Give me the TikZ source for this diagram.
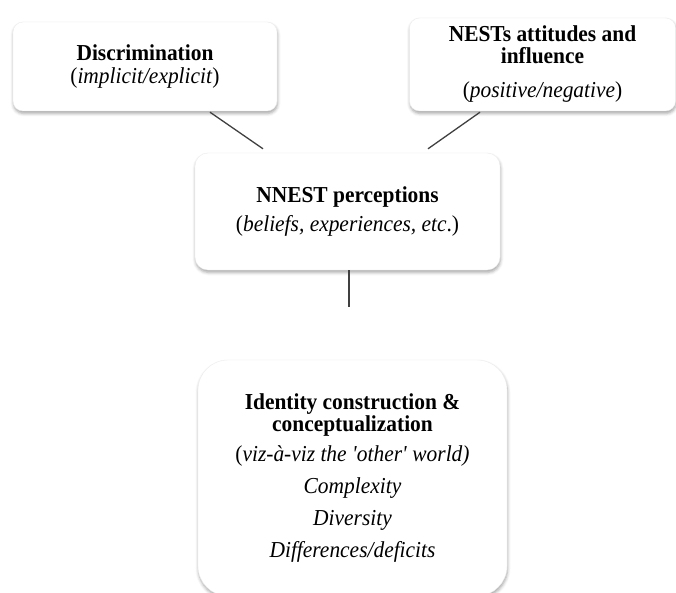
\documentclass[tikz,border=0pt]{standalone}
\usepackage{fontspec}
\setmainfont{Liberation Serif}[FakeStretch=0.94]
\usetikzlibrary{shadows.blur}

\begin{document}
\begin{tikzpicture}[x=1pt,y=-1pt,
		box/.style={fill=white,draw=black!7,rounded corners=10pt,align=center,inner sep=0pt,
			font=\fontsize{22.8}{22}\selectfont,
			blur shadow={shadow xshift=0.5pt,shadow yshift=-2.5pt,shadow blur radius=3pt,shadow opacity=35}},
		link/.style={draw=black!75,line width=1.3pt}]
			\useasboundingbox (0,0) rectangle (676,593);
			\node (disc) [box,minimum width=264pt,minimum height=89pt] at (145,66.5) {\textbf{Discrimination}\\[1pt] (\textit{implicit/explicit})};
			\node (nests) [box,minimum width=266pt,minimum height=93pt] at (542.5,64.5) {\textbf{NESTs attitudes and}\\ \textbf{influence}\\[12pt] (\textit{positive/negative})};
			\node (percep) [box,rounded corners=13pt,minimum width=305pt,minimum height=117pt] at (347.5,211.5) {\textbf{NNEST perceptions}\\[7pt] (\textit{beliefs, experiences, etc}.)};
			\node (ident) [box,rounded corners=30pt,minimum width=309pt,minimum height=236pt] at (352.5,478) {\textbf{Identity construction \&}\\ \textbf{conceptualization}\\[8pt] (\textit{viz-à-viz the \textquotesingle other\textquotesingle\ world)}\\[10pt] \textit{Complexity}\\[10pt] \textit{Diversity}\\[10pt] \textit{Differences/deficits}};
			\draw [link] ([xshift=65pt,yshift=-1pt]disc.south) -- ([xshift=-84.5pt,yshift=4pt]percep.north);
			\draw [link] ([xshift=-62.5pt,yshift=-1pt]nests.south) -- ([xshift=80.5pt,yshift=4pt]percep.north);
			\draw [link] ([xshift=1.5pt]percep.south) -- ([xshift=-3.5pt,yshift=53pt]ident.north);
		\end{tikzpicture}
\end{document}
